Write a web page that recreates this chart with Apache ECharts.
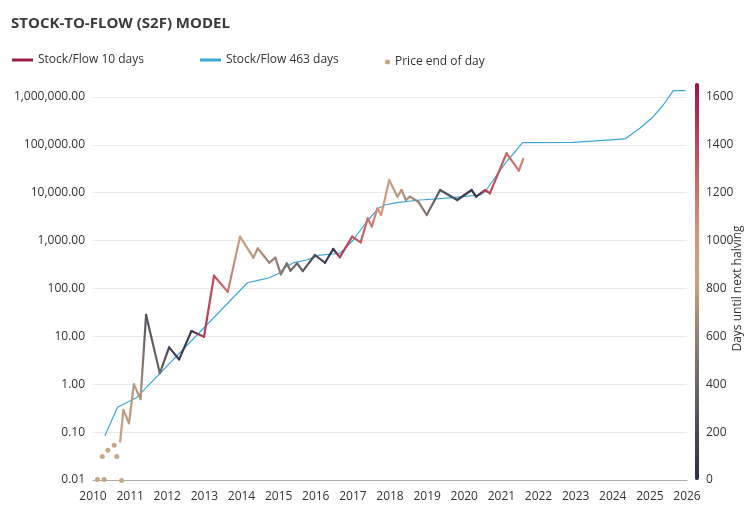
<!DOCTYPE html>
<html>
<head>
<meta charset="utf-8">
<script src="https://cdn.jsdelivr.net/npm/echarts@6/dist/echarts.min.js"></script>
<style>html,body{margin:0;padding:0;background:#fff}#c{width:750px;height:527px}</style>
</head>
<body>
<div id="c"></div>
<script>
// ---- data ----
const sf10Years = [2010.73, 2010.82, 2010.97, 2011.10, 2011.28, 2011.43, 2011.80, 2012.05, 2012.32, 2012.65,
  2012.99, 2013.26, 2013.63, 2013.96, 2014.32, 2014.44, 2014.75, 2014.91, 2015.06, 2015.22,
  2015.32, 2015.50, 2015.65, 2015.98, 2016.25, 2016.47, 2016.65, 2016.98, 2017.21, 2017.40,
  2017.51, 2017.66, 2017.76, 2017.98, 2018.20, 2018.31, 2018.43, 2018.54, 2018.76, 2018.99,
  2019.35, 2019.81, 2020.20, 2020.32, 2020.56, 2020.69, 2021.14, 2021.47, 2021.59];
const sf10Values = [0.063, 0.29, 0.153, 1.0, 0.49, 28, 1.7, 5.9, 3.3, 12.9,
  9.8, 185, 85, 1210, 440, 690, 345, 440, 197, 335,
  235, 335, 230, 500, 345, 668, 450, 1210, 920, 2920,
  1960, 4730, 3430, 18450, 8280, 11400, 7060, 8280, 6500, 3430,
  11400, 7060, 11400, 8280, 11400, 9730, 66700, 28900, 50700];
const sf10Days = [800, 790, 780, 760, 720, 260, 420, 150, 100, 50,
  1460, 1380, 1200, 860, 760, 720, 640, 600, 560, 480,
  440, 400, 340, 220, 130, 30, 1460, 1380, 1300, 1220,
  1170, 1080, 1020, 860, 760, 730, 690, 660, 600, 500,
  290, 180, 70, 20, 1460, 1420, 1260, 1160, 1100];

const sf463Years = [2010.32, 2010.66, 2011.18, 2014.16, 2014.50, 2014.75, 2015.04, 2015.13, 2015.40, 2015.76,
  2016.11, 2016.47, 2016.65, 2017.01, 2017.37, 2017.69, 2017.86, 2018.18, 2018.81, 2019.44,
  2019.97, 2020.42, 2020.56, 2020.78, 2021.14, 2021.41, 2021.57, 2022.94, 2024.33, 2024.73,
  2025.09, 2025.36, 2025.63, 2025.96];
const sf463Values = [0.084, 0.33, 0.53, 132, 151, 168, 214, 264, 346, 394,
  500, 525, 545, 1030, 2480, 4730, 5550, 6200, 7060, 7650,
  8280, 8980, 10500, 18450, 44600, 78200, 111000, 113000, 133000, 222000,
  388000, 681000, 1355000, 1355000];

const priceYears = [2010.12, 2010.30, 2010.25, 2010.40, 2010.57, 2010.64, 2010.77];
const priceValues = [0.0103, 0.0103, 0.031, 0.042, 0.053, 0.031, 0.0098];

const yearTicks = [2010, 2026];
const daysTicks = [0, 1600, 200];
const daysMax = 1658;
const halvingColors = ['#2b2e4e', '#4b4a5a', '#716868', '#9a8273', '#c9a385', '#d4937b', '#c86c6a', '#b73e55', '#a0124a'];

// ---- build ----
const FONT = '"Open Sans", sans-serif';
function colorFor(d) { return echarts.color.lerp(Math.max(0, Math.min(1, d / daysMax)), halvingColors); }

const segs = [];
for (let i = 0; i < sf10Years.length - 1; i++) {
  segs.push([sf10Years[i], sf10Values[i], sf10Years[i + 1], sf10Values[i + 1], sf10Days[i], sf10Days[i + 1]]);
}

const chart = echarts.init(document.getElementById('c'), null, { renderer: 'canvas' });
const legendText = { fontSize: 12, color: '#333', fontFamily: FONT };
chart.setOption({
  animation: false,
  backgroundColor: '#fff',
  textStyle: { fontFamily: FONT },
  title: {
    text: 'STOCK-TO-FLOW (S2F) MODEL', left: 6, top: 11,
    textStyle: { fontSize: 15, fontWeight: 'bold', color: '#3b3b3b', fontFamily: FONT }
  },
  legend: [
    { data: ['Stock/Flow 10 days'], left: 12, top: 54, padding: 0, icon: 'rect', itemWidth: 21, itemHeight: 3, itemGap: 6,
      itemStyle: { color: '#9c1b4a' }, textStyle: legendText, selectedMode: false },
    { data: ['Stock/Flow 463 days'], left: 200, top: 54, padding: 0, icon: 'rect', itemWidth: 21, itemHeight: 3,
      itemStyle: { color: '#3ba7d5' }, textStyle: legendText, selectedMode: false },
    { data: ['Price end of day'], left: 385, top: 56, padding: 0, icon: 'circle', itemWidth: 5, itemHeight: 5,
      itemStyle: { color: '#c8a583' }, textStyle: legendText, selectedMode: false }
  ],
  grid: { left: 93, right: 63, top: 97, bottom: 47, outerBoundsMode: 'none' },
  xAxis: {
    type: 'value', min: yearTicks[0], max: yearTicks[1], interval: 1,
    axisLine: { lineStyle: { color: '#aaa', width: 1 } },
    axisTick: { show: false }, splitLine: { show: false },
    axisLabel: { color: '#333', fontSize: 12, margin: 11, formatter: v => String(v), fontFamily: FONT }
  },
  yAxis: [
    { type: 'log', logBase: 10, min: 0.01, max: 1000000,
      axisLine: { show: false }, axisTick: { show: false },
      splitLine: { lineStyle: { color: '#e8e8e8' } },
      axisLabel: { color: '#333', fontSize: 12, margin: 8, fontFamily: FONT,
        formatter: v => Number(v).toLocaleString('en-US', { minimumFractionDigits: 2, maximumFractionDigits: 2 }) } },
    { type: 'value', position: 'right', min: daysTicks[0], max: daysTicks[1], interval: daysTicks[2],
      axisLine: { show: false }, axisTick: { show: false }, splitLine: { show: false },
      axisLabel: { color: '#333', fontSize: 12, margin: 19, fontFamily: FONT, formatter: v => String(v) },
      name: 'Days until next halving', nameLocation: 'middle', nameGap: 45, nameRotate: 90,
      nameMoveOverlap: false,
      nameTextStyle: { color: '#333', fontSize: 12, fontFamily: FONT } }
  ],
  visualMap: {
    type: 'continuous', min: 0, max: daysMax, seriesIndex: [],
    left: 695, top: 83, itemWidth: 4, itemHeight: 397, padding: 0,
    text: ['', ''], showLabel: false, calculable: false, hoverLink: false,
    inRange: { color: halvingColors }
  },
  series: [
    { name: 'Stock/Flow 463 days', type: 'line', clip: false, symbol: 'none',
      data: sf463Years.map((x, i) => [x, sf463Values[i]]),
      lineStyle: { color: '#3ba7d5', width: 1.2 }, itemStyle: { color: '#3ba7d5' }, z: 2 },
    { name: 'Stock/Flow 10 days', type: 'custom', clip: false,
      itemStyle: { color: '#9c1b4a' },
      encode: { x: [0, 2], y: [1, 3] },
      data: segs,
      renderItem: function (params, api) {
        const p1 = api.coord([api.value(0), api.value(1)]);
        const p2 = api.coord([api.value(2), api.value(3)]);
        const c1 = colorFor(api.value(4)), c2 = colorFor(api.value(5));
        return {
          type: 'line',
          shape: { x1: p1[0], y1: p1[1], x2: p2[0], y2: p2[1] },
          style: {
            stroke: { type: 'linear', x: p1[0], y: p1[1], x2: p2[0], y2: p2[1], global: true,
              colorStops: [{ offset: 0, color: c1 }, { offset: 1, color: c2 }] },
            lineWidth: 2.2, lineCap: 'round', fill: null
          }
        };
      }, z: 3 },
    { name: 'Price end of day', type: 'scatter', clip: false, symbolSize: 5,
      data: priceYears.map((x, i) => [x, priceValues[i]]),
      itemStyle: { color: '#c8a583', opacity: 1 }, z: 4 }
  ]
});
</script>
</body>
</html>
